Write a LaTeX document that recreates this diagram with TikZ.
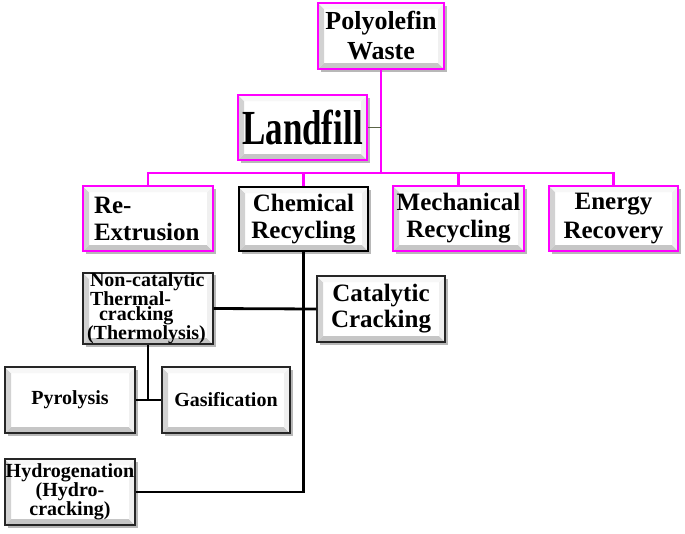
\documentclass[tikz,border=0pt]{standalone}
\usepackage{fontspec}
\setmainfont{Liberation Serif}
\usetikzlibrary{shadows}
\definecolor{mag}{RGB}{255,0,255}
\definecolor{olivl}{RGB}{90,100,70}
\newcommand\myfs[2]{\fontsize{#1}{#2}\selectfont}
\tikzset{
 bevel/.style={path picture={
   \path (path picture bounding box.south west) coordinate (bvSW)
         (path picture bounding box.north east) coordinate (bvNE)
         (path picture bounding box.north west) coordinate (bvNW)
         (path picture bounding box.south east) coordinate (bvSE);
   \fill[gray!35] (bvSW) -- (bvNW) -- ([shift={(6pt,-6pt)}]bvNW) -- ([shift={(6pt,6pt)}]bvSW) -- cycle;
   \fill[gray!45] (bvSW) -- (bvSE) -- ([shift={(-6pt,6pt)}]bvSE) -- ([shift={(6pt,6pt)}]bvSW) -- cycle;
   \fill[gray!12] (bvNE) -- (bvSE) -- ([shift={(-6pt,6pt)}]bvSE) -- ([shift={(-6pt,-6pt)}]bvNE) -- cycle;
   \fill[gray!6] (bvNW) -- (bvNE) -- ([shift={(-6pt,-6pt)}]bvNE) -- ([shift={(6pt,-6pt)}]bvNW) -- cycle;
 }},
 box/.style={fill=white, bevel, inner sep=0pt,
   drop shadow={shadow xshift=2.5pt, shadow yshift=-2.5pt, fill=gray!70, opacity=0.8}},
 magbox/.style={box, draw=mag, line width=2.2pt},
 blkbox/.style={box, draw=black, line width=1.9pt},
 lowbox/.style={box, draw=black!85, line width=1.4pt},
 magline/.style={draw=mag, line width=2.1pt},
 blkline/.style={draw=black, line width=2.8pt},
 thinline/.style={draw=black, line width=1.6pt},
}
\begin{document}
\begin{tikzpicture}[x=1pt,y=-1pt]
\useasboundingbox (0,0) rectangle (685,533);
% top level
\node[magbox, minimum width=126pt, minimum height=66pt, align=center,
      font=\bfseries\myfs{26}{30}] (poly) at (381,36) {Polyolefin\\Waste};
\node[magbox, minimum width=129pt, minimum height=65pt,
      font=\bfseries] (land) at (302.5,127.5) {\scalebox{1}[1.4]{\myfs{35}{35}Landfill}};
% second level
\node[magbox, minimum width=130pt, minimum height=65pt, align=left, text width=108pt,
      font=\bfseries\myfs{25}{27}] (rex) at (148,218.5) {Re-\\Extrusion};
\node[blkbox, minimum width=129pt, minimum height=64pt, align=center,
      font=\bfseries\myfs{25}{27}] (chem) at (303.5,219) {Chemical\\Recycling};
\node[magbox, minimum width=131pt, minimum height=65pt, align=center,
      font=\bfseries\myfs{25}{27}] (mech) at (458.5,218.5) {Mechanical\\Recycling};
\node[magbox, minimum width=129pt, minimum height=65pt, align=center,
      font=\bfseries\myfs{25}{29}] (energy) at (613.5,218.5) {Energy\\Recovery};
% chemical subtree
\node[lowbox, minimum width=130pt, minimum height=65pt, align=left, text width=122pt,
      font=\bfseries\myfs{20}{14.5}] (noncat) at (148,308.5)
      {\hspace*{3pt}Non-catalytic\\\hspace*{3pt}Thermal-\\\hspace*{12pt}cracking\\(Thermolysis)};
\node[lowbox, minimum width=128pt, minimum height=66pt, align=center,
      font=\bfseries\myfs{25}{26}] (cat) at (381,309) {Catalytic\\Cracking};
\node[lowbox, minimum width=130pt, minimum height=66pt,
      font=\bfseries\myfs{20}{22}] (pyro) at (70,400) {Pyrolysis};
\node[lowbox, minimum width=128pt, minimum height=66pt,
      font=\bfseries\myfs{20}{22}] (gas) at (226,400) {Gasification};
\node[lowbox, minimum width=130pt, minimum height=66pt, align=center,
      font=\bfseries\myfs{20}{19}] (hydro) at (70,492) {Hydrogenation\\(Hydro-\\cracking)};
% connectors
\coordinate (j) at (381,173);
\coordinate (k) at (148,400);
\draw[magline] (poly.south) -- (j);
\draw[magline] (rex.north) |- (j);
\draw[magline] (energy.north) |- (j);
\draw[magline] (chem.north) |- (j);
\draw[magline] (mech.north) |- (j);
\draw[olivl, line width=1.3pt] (land.east) -- (land.east -| poly.south);
\draw[blkline] (chem.south) |- (hydro.east);
\draw[blkline] (noncat.east) -- (cat.west);
\draw[thinline] (noncat.south) -- (k);
\draw[thinline] (pyro.east) -- (gas.west);
\end{tikzpicture}
\end{document}
